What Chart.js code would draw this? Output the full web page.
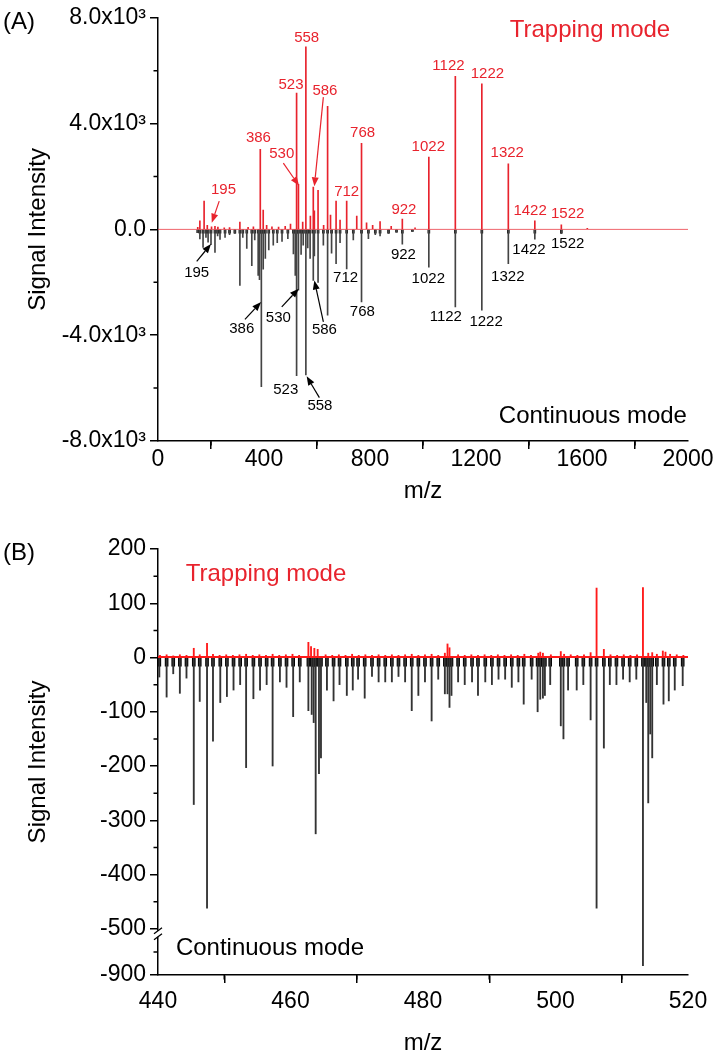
<!DOCTYPE html>
<html>
<head>
<meta charset="utf-8">
<script src="https://cdn.jsdelivr.net/npm/chart.js@4/dist/chart.umd.min.js"></script>
<style>
  html, body { margin: 0; padding: 0; background: #fff; overflow: hidden; }
  #chartA { position: absolute; left: 0; top: 0; }
  #chartB { position: absolute; left: 0; top: 515px; }
</style>
</head>
<body>
<canvas id="chartA" width="715" height="515"></canvas>
<canvas id="chartB" width="715" height="555"></canvas>
<script>
/* ============================
   DATA
============================ */

// (A) full range spectrum – trapping mode (up) and continuous mode (down)
const trapMzA = [150, 158, 174, 186, 202, 215, 226, 250, 270, 309, 340, 360, 386, 397, 410,
  430, 455, 480, 500, 523, 530, 546, 558, 575, 586, 590, 604, 625, 640, 651,
  672, 687, 712, 750, 768, 787, 810, 838, 880, 922, 970, 1022, 1122, 1222, 1322,
  1422, 1522, 1620];
const trapIntA = [80, 320, 1070, 150, 100, 120, 90, 60, 70, 280, 80, 100, 3030, 730, 150,
  100, 90, 120, 200, 5150, 1700, 280, 6900, 500, 1600, 700, 1480, 150, 4650, 540,
  1070, 350, 1070, 500, 3250, 250, 150, 300, 120, 390, 60, 2730, 5790, 5500, 2480,
  320, 170, 40];

const contMzA = [150, 158, 170, 181, 189, 200, 215, 225, 234, 253, 270, 290, 309, 320, 335,
  354, 365, 378, 383, 390, 397, 405, 418, 435, 450, 468, 490, 511, 518, 523,
  530, 540, 548, 558, 565, 574, 586, 590, 604, 624, 640, 655, 672, 687, 712,
  737, 768, 794, 820, 838, 870, 900, 922, 960, 1022, 1122, 1222, 1322, 1422, 1522];
const contIntA = [-120, -360, -680, -300, -480, -580, -870, -250, -380, -300, -200, -150, -2120, -300, -720,
  -1370, -400, -1740, -1900, -5950, -1500, -1100, -780, -600, -500, -450, -350, -930, -1740, -5530,
  -2300, -950, -600, -5500, -700, -1100, -1930, -1000, -2000, -600, -3240, -900, -1300, -500, -1490,
  -400, -2740, -350, -200, -250, -150, -100, -555, -80, -1430, -2930, -3050, -1300, -370, -160];

// peak labels [text, m/z, intensity] and arrows [fromMz, fromInt, toMz, toInt]
const trapLabelsA = [["195", 247, 1480], ["386", 379, 3466], ["530", 467, 2840], ["523", 502, 5478],
  ["558", 561, 7250], ["586", 630, 5253], ["712", 712, 1416], ["768", 772, 3653], ["922", 928, 757],
  ["1022", 1020, 3102], ["1122", 1096, 6190], ["1222", 1243, 5875], ["1322", 1318, 2877],
  ["1422", 1404, 719], ["1522", 1546, 569]];
const contLabelsA = [["195", 146, -1656], ["386", 316, -3765], ["530", 454, -3327], ["523", 482, -6051],
  ["558", 611, -6677], ["586", 628, -3803], ["712", 708, -1843], ["768", 771, -3118], ["922", 926, -967],
  ["1022", 1020, -1866], ["1122", 1086, -3305], ["1222", 1238, -3492], ["1322", 1320, -1780],
  ["1422", 1400, -779], ["1522", 1546, -555]];
const trapArrowsA = [[231, 1068, 203, 255], [473, 2503, 532, 1656], [624, 5002, 590, 1630]];
const contArrowsA = [[146, -1206, 200, -555], [328, -3402, 389, -2743], [467, -2930, 531, -2240],
  [624, -3492, 590, -1930], [609, -6362, 561, -5553]];

// (B) zoom 440-520
const trapMzB = [440.3, 441.3, 442.3, 443.3, 444.3, 445.4, 446.3, 447.4, 448.3, 449.3,
  450.3, 451.3, 452.3, 453.3, 454.3, 455.3, 456.3, 457.3, 458.3, 459.3,
  460.3, 461.3, 462.7, 463.1, 463.6, 464.1, 465.3, 466.3, 467.3, 468.3,
  469.3, 470.3, 471.3, 472.3, 473.3, 474.3, 475.3, 476.3, 477.3, 478.3,
  479.3, 480.3, 481.3, 482.3, 483.3, 483.7, 484.0, 485.3, 486.3, 487.3,
  488.3, 489.3, 490.3, 491.3, 492.3, 493.3, 494.3, 495.3, 496.3, 497.4,
  497.7, 498.1, 499.3, 500.8, 501.3, 502.3, 503.3, 504.3, 505.3, 506.2,
  507.3, 508.3, 509.3, 510.3, 511.3, 512.3, 513.2, 514.0, 514.6, 515.3,
  516.2, 516.6, 517.3, 518.3, 519.3];
const trapIntB = [4, 5, 3, 5, 4, 17, 5, 26, 6, 4,
  5, 4, 5, 6, 4, 5, 4, 6, 4, 5,
  6, 4, 28, 20, 17, 15, 5, 4, 5, 4,
  6, 4, 5, 4, 5, 4, 5, 4, 5, 6,
  4, 5, 6, 4, 8, 25, 18, 5, 4, 5,
  4, 5, 4, 5, 4, 5, 4, 6, 4, 8,
  10, 8, 5, 11, 6, 5, 4, 5, 9, 128,
  15, 5, 4, 5, 4, 5, 129, 8, 9, 6,
  12, 10, 6, 5, 4];

const contMzB = [440.2, 441.3, 442.3, 443.3, 444.3, 445.4, 446.3, 447.4, 448.3, 449.4,
  450.4, 451.4, 452.4, 453.3, 454.4, 455.4, 456.4, 457.3, 458.4, 459.4,
  460.4, 461.4, 462.7, 463.2, 463.5, 463.8, 464.3, 464.6, 465.5, 466.5,
  467.4, 468.5, 469.4, 470.2, 471.2, 472.3, 473.3, 474.3, 475.3, 476.3,
  477.3, 478.3, 479.3, 480.3, 481.3, 482.3, 483.3, 483.7, 484.0, 484.3,
  485.3, 486.3, 487.4, 488.3, 489.4, 490.4, 491.4, 492.4, 493.4, 494.4,
  495.2, 496.4, 497.3, 497.7, 498.1, 498.4, 499.2, 500.8, 501.2, 501.9,
  503.2, 504.2, 505.3, 506.2, 507.3, 508.2, 509.2, 510.2, 511.2, 512.2,
  513.2, 513.7, 514.0, 514.3, 514.6, 515.3, 516.3, 517.1, 518.0, 519.2];
const contIntB = [-36, -73, -30, -66, -38, -271, -81, -462, -154, -83,
  -72, -60, -50, -203, -76, -60, -50, -200, -45, -55,
  -109, -45, -98, -105, -120, -325, -214, -185, -60, -80,
  -50, -70, -60, -40, -75, -35, -45, -45, -45, -35,
  -45, -98, -70, -45, -117, -40, -67, -67, -92, -70,
  -45, -50, -45, -70, -45, -50, -40, -40, -55, -45,
  -86, -40, -100, -77, -75, -70, -50, -126, -150, -60,
  -60, -50, -115, -462, -167, -50, -50, -40, -45, -40,
  -820, -83, -268, -141, -185, -50, -86, -80, -60, -52];

const yTicksA = [-8000, -4000, 0, 4000, 8000];
const yTicksB = [200, 100, 0, -100, -200, -300, -400, -500, -900];

/* ===== STYLE / HELPERS ===== */

const RED = "#e8232d";
const FONT = "'Liberation Sans', Arial, sans-serif";
Chart.defaults.font.family = FONT;
Chart.defaults.color = "#000";

// broken y axis in (B): below -500 the scale is compressed
const BREAK_AT = -500;
const BREAK_RATIO = 0.213;
const toAxisB = v => (v >= BREAK_AT ? v : BREAK_AT + (v - BREAK_AT) * BREAK_RATIO);
const fromAxisB = v => (v >= BREAK_AT ? v : BREAK_AT + (v - BREAK_AT) / BREAK_RATIO);

const pts = (xs, ys, f = v => v) => xs.map((x, i) => ({ x, y: f(ys[i]) }));

const axisGrid = { drawOnChartArea: false, drawTicks: true, tickLength: 8, tickColor: "#000", tickWidth: 1.5, lineWidth: 1.5 };
const axisBorder = { display: true, color: "#000", width: 1.5 };

// text, arrows and panel letter
const notesPlugin = {
  id: "notes",
  afterDatasetsDraw(chart, args, opts) {
    const { ctx, scales: { x, y } } = chart;
    ctx.save();
    (opts.arrows || []).forEach(group => {
      ctx.strokeStyle = group.color;
      ctx.fillStyle = group.color;
      ctx.lineWidth = 1.2;
      group.items.forEach(([x0, y0, x1, y1]) => {
        const ax = x.getPixelForValue(x0), ay = y.getPixelForValue(y0);
        const bx = x.getPixelForValue(x1), by = y.getPixelForValue(y1);
        const ang = Math.atan2(by - ay, bx - ax);
        const hx = bx - 9 * Math.cos(ang), hy = by - 9 * Math.sin(ang);
        ctx.beginPath();
        ctx.moveTo(ax, ay);
        ctx.lineTo(hx, hy);
        ctx.stroke();
        ctx.beginPath();
        ctx.moveTo(bx, by);
        ctx.lineTo(hx + 3.5 * Math.sin(ang), hy - 3.5 * Math.cos(ang));
        ctx.lineTo(hx - 3.5 * Math.sin(ang), hy + 3.5 * Math.cos(ang));
        ctx.closePath();
        ctx.fill();
      });
    });
    ctx.textAlign = "center";
    ctx.textBaseline = "middle";
    (opts.texts || []).forEach(group => {
      ctx.fillStyle = group.color;
      ctx.font = `${group.size}px ${FONT}`;
      group.items.forEach(([t, vx, vy]) => {
        ctx.fillText(t, x.getPixelForValue(vx), y.getPixelForValue(vy));
      });
    });
    if (opts.panel) {
      ctx.fillStyle = "#000";
      ctx.font = `24px ${FONT}`;
      ctx.fillText(opts.panel.text, opts.panel.x, opts.panel.y);
    }
    ctx.restore();
  }
};

// minor ticks + optional axis break marks
const minorTicksPlugin = {
  id: "minorTicks",
  afterDraw(chart, args, opts) {
    const { ctx, chartArea: a, scales: { x, y } } = chart;
    ctx.save();
    ctx.strokeStyle = "#000";
    ctx.lineWidth = 1.5;
    ctx.beginPath();
    (opts.x || []).forEach(v => {
      const px = x.getPixelForValue(v);
      ctx.moveTo(px, a.bottom);
      ctx.lineTo(px, a.bottom + 4.5);
    });
    (opts.y || []).forEach(v => {
      const py = y.getPixelForValue(v);
      ctx.moveTo(a.left, py);
      ctx.lineTo(a.left - 4.5, py);
    });
    ctx.stroke();
    if (opts.breakAt !== undefined) {
      const py = y.getPixelForValue(opts.breakAt);
      ctx.fillStyle = "#fff";
      ctx.fillRect(a.left - 3, py + 2, 6, 6);
      ctx.lineWidth = 1.3;
      ctx.beginPath();
      ctx.moveTo(a.left - 4, py + 5); ctx.lineTo(a.left + 4, py - 1);
      ctx.moveTo(a.left - 4, py + 11); ctx.lineTo(a.left + 4, py + 5);
      ctx.stroke();
    }
    ctx.restore();
  }
};

/* ===== (A) FULL SPECTRUM ===== */

const contA = pts(contMzA, contIntA);

new Chart(document.getElementById("chartA"), {
  type: "bar",
  data: {
    datasets: [
      { type: "line", data: [{ x: 0, y: 0 }, { x: 2000, y: 0 }], borderColor: "rgba(232,35,45,0.7)",
        borderWidth: 1, pointRadius: 0, order: 0 },
      { data: pts(trapMzA, trapIntA), backgroundColor: RED, barThickness: 1, grouped: false, order: 1 },
      { data: contA, backgroundColor: "#444", barThickness: 1, grouped: false, order: 2 },
      { data: contA.map(p => ({ x: p.x, y: Math.max(p.y, -140) })), backgroundColor: "#111",
        barThickness: 2, grouped: false, order: 3 },
    ],
  },
  options: {
    responsive: false,
    animation: false,
    devicePixelRatio: 1,
    layout: { padding: { top: 15, right: 27, left: 0, bottom: 0 } },
    plugins: {
      legend: { display: false },
      tooltip: { enabled: false },
      notes: {
        texts: [
          { color: RED, size: 15, items: trapLabelsA },
          { color: "#000", size: 15, items: contLabelsA },
          { color: RED, size: 24, items: [["Trapping mode", 1630, 7512]] },
          { color: "#000", size: 24, items: [["Continuous mode", 1641, -7062]] },
        ],
        arrows: [
          { color: RED, items: trapArrowsA },
          { color: "#000", items: contArrowsA },
        ],
        panel: { text: "(A)", x: 19, y: 22 },
      },
      minorTicks: { x: [200, 600, 1000, 1400, 1800], y: [-6000, -2000, 2000, 6000] },
    },
    scales: {
      x: {
        type: "linear", min: 0, max: 2000, offset: false,
        ticks: { stepSize: 400, autoSkip: false, maxRotation: 0, padding: -3, font: { size: 23 }, callback: v => String(v) },
        grid: axisGrid, border: axisBorder,
        title: { display: true, text: "m/z", font: { size: 24 }, padding: { top: 0, bottom: 9 } },
        afterFit: s => { s.height = 74; },
      },
      y: {
        min: -8000, max: 8000,
        afterBuildTicks: s => { s.ticks = yTicksA.map(value => ({ value })); },
        ticks: {
          padding: 4, font: { size: 23 },
          callback: v => (v === 0 ? "0.0" : (v / 1000).toFixed(1) + "x10³"),
        },
        grid: axisGrid, border: axisBorder,
        title: { display: true, text: "Signal Intensity", font: { size: 24 }, padding: { top: 24, bottom: 0 } },
        afterFit: s => { s.width = 158; },
      },
    },
  },
  plugins: [notesPlugin, minorTicksPlugin],
});

/* ===== (B) ZOOM 440-520 ===== */

const contB = pts(contMzB, contIntB, toAxisB);

new Chart(document.getElementById("chartB"), {
  type: "bar",
  data: {
    datasets: [
      { type: "line", data: [{ x: 440, y: 1 }, { x: 520, y: 1 }], borderColor: "#ff1a1a",
        borderWidth: 2, pointRadius: 0, order: 0 },
      { data: pts(trapMzB, trapIntB), backgroundColor: "#ff1a1a", barThickness: 1.2, grouped: false, order: 1 },
      { data: contB, backgroundColor: "#333", barThickness: 1.2, grouped: false, order: 2 },
      { data: contB.map(p => ({ x: p.x, y: Math.max(p.y, -16) })), backgroundColor: "#000",
        barThickness: 3, grouped: false, order: 3 },
    ],
  },
  options: {
    responsive: false,
    animation: false,
    devicePixelRatio: 1,
    layout: { padding: { top: 34, right: 27, left: 0, bottom: 0 } },
    plugins: {
      legend: { display: false },
      tooltip: { enabled: false },
      notes: {
        texts: [
          { color: RED, size: 24, items: [["Trapping mode", 456.3, 153]] },
          { color: "#000", size: 24, items: [["Continuous mode", 456.9, toAxisB(-671)]] },
        ],
        panel: { text: "(B)", x: 19, y: 38 },
      },
      minorTicks: {
        x: [450, 470, 490, 510],
        y: [150, 50, -50, -150, -250, -350, -450, -700].map(toAxisB),
        breakAt: toAxisB(-500),
      },
    },
    scales: {
      x: {
        type: "linear", min: 440, max: 520, offset: false,
        ticks: { stepSize: 20, autoSkip: false, maxRotation: 0, padding: 5, font: { size: 23 }, callback: v => String(v) },
        grid: axisGrid, border: axisBorder,
        title: { display: true, text: "m/z", font: { size: 24 }, padding: { top: 0, bottom: 12 } },
        afterFit: s => { s.height = 95; },
      },
      y: {
        min: toAxisB(-900), max: 200,
        afterBuildTicks: s => { s.ticks = yTicksB.map(v => ({ value: toAxisB(v) })); },
        ticks: { padding: 4, font: { size: 23 }, callback: v => String(Math.round(fromAxisB(v))) },
        grid: axisGrid, border: axisBorder,
        title: { display: true, text: "Signal Intensity", font: { size: 24 }, padding: { top: 24, bottom: 0 } },
        afterFit: s => { s.width = 158; },
      },
    },
  },
  plugins: [notesPlugin, minorTicksPlugin],
});
</script>
</body>
</html>
